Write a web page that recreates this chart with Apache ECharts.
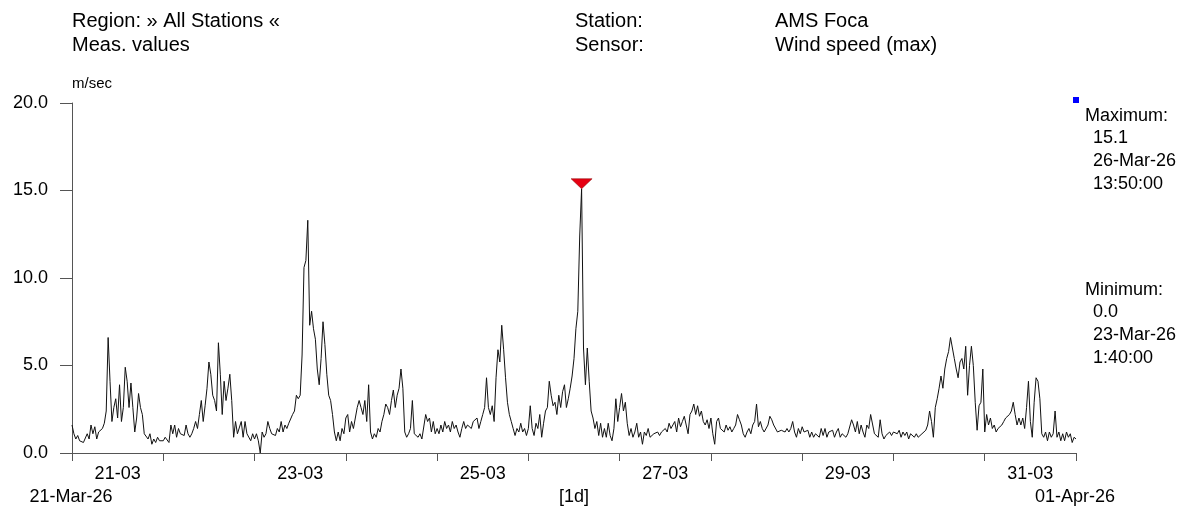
<!DOCTYPE html>
<html>
<head>
<meta charset="utf-8">
<title>AMS Foca - Wind speed (max)</title>
<script src="https://cdn.jsdelivr.net/npm/echarts@6/dist/echarts.min.js"></script>
<style>
  html, body { margin: 0; padding: 0; background: #fff; }
  #myChart { width: 1183px; height: 506px; }
</style>
</head>
<body>
<div id="myChart"></div>
<script>
// day labels for the x axis (labels shown every other day, centred on noon)
var dayLabels = ["21-03", "22-03", "23-03", "24-03", "25-03", "26-03", "27-03", "28-03", "29-03", "30-03", "31-03"];
var yTicks = [0, 5, 10, 15, 20];

// wind speed (max) in m/sec, one value every 30 minutes
var d21 = [1.6,1.1,0.8,1.0,0.7,0.8,0.6,0.7,1.1,0.8, 1.6,1.1,1.5,0.8,1.2,1.3,1.4,1.7,2.4,6.6, 4.1,1.8,2.6,3.1,2.0,3.9,1.8,2.6,4.9,4.1, 2.6,4.0,2.6,1.2,2.0,3.4,2.6,2.2,1.1,1.2, 0.8,1.1,0.5,0.8,0.6,0.9,0.7,0.8];
var d22 = [0.7,0.9,0.8,0.6,1.6,1.1,1.6,0.9,1.4,1.1, 1.2,1.0,1.6,1.1,0.9,1.1,1.4,1.8,1.4,2.2, 3.0,1.8,2.7,3.7,5.2,4.5,3.3,3.0,2.4,6.3, 4.5,2.2,4.1,3.0,3.7,4.5,3.0,0.9,1.8,1.1, 1.2,1.8,0.9,1.8,1.1,1.2,0.7,1.1];
var d23 = [0.8,1.1,0.7,0.0,1.2,0.9,1.1,1.8,1.4,1.1, 1.2,1.0,1.4,1.2,1.8,1.2,1.6,1.4,1.7,1.8, 2.2,2.4,3.3,3.1,3.3,5.6,10.6,11.0,13.3,7.3, 8.1,7.1,6.5,4.8,3.9,5.4,7.5,6.2,4.5,3.3, 3.0,2.2,1.2,0.7,1.2,0.7,1.4,1.1];
var d24 = [2.0,2.2,1.2,1.8,1.4,2.0,2.6,3.0,2.6,2.2, 3.0,1.8,3.9,1.2,0.8,1.1,0.9,1.4,1.2,1.8, 2.2,2.8,2.6,2.2,3.0,3.6,2.6,3.3,3.7,4.8, 3.7,1.2,0.9,1.1,1.4,3.0,1.1,1.2,0.9,1.1, 0.8,0.7,2.2,1.8,2.0,1.2,1.8,1.1];
var d25 = [1.4,1.1,1.6,1.2,1.8,1.4,1.6,1.2,1.8,1.4, 1.6,1.2,0.9,1.4,1.8,1.4,1.6,1.7,1.4,1.8, 1.7,2.0,1.4,1.8,2.2,2.6,4.3,2.6,2.2,2.7, 1.8,4.3,5.9,5.2,7.3,5.9,4.3,2.9,2.2,1.8, 1.4,1.0,1.4,1.2,1.7,1.2,1.4,1.0];
var d26 = [1.4,2.7,1.4,1.0,1.7,1.4,2.2,0.9,1.7,2.4, 2.6,4.1,3.3,2.7,2.9,2.2,3.3,2.6,3.5,3.9, 2.6,3.1,3.7,4.4,5.4,7.1,8.1,12.4,15.1,6.0, 3.9,6.0,4.1,2.4,2.0,1.4,1.8,1.0,1.7,0.9, 1.4,0.9,1.7,1.0,0.7,1.4,3.1,1.8];
var d27 = [2.6,3.4,2.4,2.9,1.7,1.0,1.4,0.9,1.2,1.7, 0.9,1.2,0.5,1.2,1.0,1.4,0.9,1.0,1.1,1.0, 1.2,1.0,1.2,1.3,1.4,1.2,1.7,1.4,1.4,1.8, 1.2,2.0,1.5,1.8,2.1,1.6,1.1,2.2,2.4,2.8, 2.2,2.7,2.1,2.4,1.8,1.6,1.9,1.4];
var d28 = [2.0,1.1,0.5,1.8,2.0,1.4,1.5,1.2,1.6,1.3, 1.5,1.2,1.4,1.6,2.2,1.9,1.6,1.1,0.9,1.2, 1.4,1.1,1.6,1.8,2.8,1.5,1.8,1.4,1.2,1.2, 1.6,2.1,1.9,1.6,1.7,1.2,1.1,1.3,1.2,1.2, 1.4,1.2,1.4,1.8,1.2,0.9,1.4,1.1];
var d29 = [1.5,1.2,1.1,1.3,0.9,1.2,0.9,1.1,1.2,0.9, 1.4,1.0,1.4,0.9,1.2,1.1,1.3,0.9,1.2,1.4, 0.9,1.1,1.2,0.9,1.1,1.2,1.9,1.6,1.2,1.8, 1.1,1.6,1.2,0.9,1.6,1.4,2.2,2.2,1.1,1.2, 0.9,1.9,1.1,0.8,1.0,1.1,1.2,1.0];
var d30 = [1.2,1.3,1.1,1.3,0.9,1.2,1.0,1.2,0.8,1.1, 1.0,0.9,1.1,0.9,1.0,1.1,1.2,1.3,1.6,2.4, 1.8,0.9,2.6,3.1,3.7,4.4,3.7,4.8,5.4,5.8, 6.6,6.0,5.4,4.8,4.3,5.2,5.4,4.8,6.1,3.3, 5.0,6.1,5.0,2.9,1.3,2.7,2.9,4.8];
var d31 = [1.2,2.2,1.6,2.0,1.4,1.6,1.2,1.4,1.5,1.6, 1.8,2.0,1.9,2.2,2.4,2.9,2.2,1.6,2.0,1.6, 2.0,1.4,2.6,4.1,1.8,0.9,2.9,4.3,4.1,3.1, 1.1,0.9,1.2,0.7,1.2,0.9,1.1,2.4,0.9,1.2, 0.7,1.1,0.7,1.2,0.9,1.1,0.6,0.9];
var d01 = [0.8];

var FONT = '"Liberation Sans", Arial, sans-serif';

// hours since 21-Mar 00:00 -> value
var values = [].concat(d21, d22, d23, d24, d25, d26, d27, d28, d29, d30, d31, d01);
var seriesData = values.map(function (v, i) { return [i * 0.5, v]; });

function txt(text, x, y, size, align) {
  return {
    type: "text",
    x: x,
    y: y,
    silent: true,
    style: {
      text: text,
      font: size + "px " + FONT,
      fill: "#000",
      align: align || "left",
      textAlign: align || "left",
      verticalAlign: "middle",
      textVerticalAlign: "middle"
    }
  };
}

let myChart = echarts.init(document.getElementById("myChart"), null, { renderer: "canvas" });
myChart.setOption({
  animation: false,
  backgroundColor: "#fff",
  grid: {
    left: 72,
    right: 107,
    top: 103,
    bottom: 53
  },
  xAxis: [
    {
      // data axis, hours
      type: "value",
      min: 0,
      max: 264,
      show: false
    },
    {
      // day axis: ticks at midnight, labels at noon
      type: "category",
      data: dayLabels,
      boundaryGap: true,
      position: "bottom",
      axisLine: { show: true, lineStyle: { color: "#555", width: 1 } },
      axisTick: { show: true, interval: 0, length: 8, lineStyle: { color: "#555" } },
      axisLabel: { interval: 1, margin: 12, fontSize: 18, color: "#000", fontFamily: FONT },
      splitLine: { show: false }
    }
  ],
  yAxis: {
    type: "value",
    min: yTicks[0],
    max: yTicks[yTicks.length - 1],
    interval: 5,
    axisLine: { show: true, lineStyle: { color: "#555", width: 1 } },
    axisTick: { show: true, length: 12, lineStyle: { color: "#555" } },
    axisLabel: {
      margin: 24,
      fontSize: 18,
      color: "#000",
      fontFamily: FONT,
      formatter: function (v) { return v.toFixed(1); }
    },
    splitLine: { show: false }
  },
  series: [
    {
      name: "Wind speed (max)",
      type: "line",
      xAxisIndex: 0,
      data: seriesData,
      showSymbol: false,
      symbol: "none",
      lineStyle: { color: "#111", width: 1 },
      markPoint: {
        symbol: "triangle",
        symbolRotate: 180,
        symbolSize: [21, 10],
        symbolOffset: [0, -5],
        itemStyle: { color: "#e60012", borderColor: "#8a0000", borderWidth: 0.5 },
        label: { show: false },
        data: [{ type: "max", valueDim: "y" }]
      }
    }
  ],
  graphic: [
    txt("Region: » All Stations «", 72, 21, 20),
    txt("Meas. values", 72, 45, 20),
    txt("Station:", 575, 21, 20),
    txt("Sensor:", 575, 45, 20),
    txt("AMS Foca", 775, 21, 20),
    txt("Wind speed (max)", 775, 45, 20),
    txt("m/sec", 72, 84, 15),
    {
      type: "rect",
      silent: true,
      shape: { x: 1073, y: 97, width: 6, height: 6 },
      style: { fill: "#0000ff" }
    },
    txt("Maximum:", 1085, 116, 18),
    txt("15.1", 1093, 138, 18),
    txt("26-Mar-26", 1093, 161, 18),
    txt("13:50:00", 1093, 184, 18),
    txt("Minimum:", 1085, 290, 18),
    txt("0.0", 1093, 312, 18),
    txt("23-Mar-26", 1093, 335, 18),
    txt("1:40:00", 1093, 358, 18),
    txt("21-Mar-26", 71, 497, 18, "center"),
    txt("[1d]", 574, 497, 18, "center"),
    txt("01-Apr-26", 1075, 497, 18, "center")
  ]
});
</script>
</body>
</html>
